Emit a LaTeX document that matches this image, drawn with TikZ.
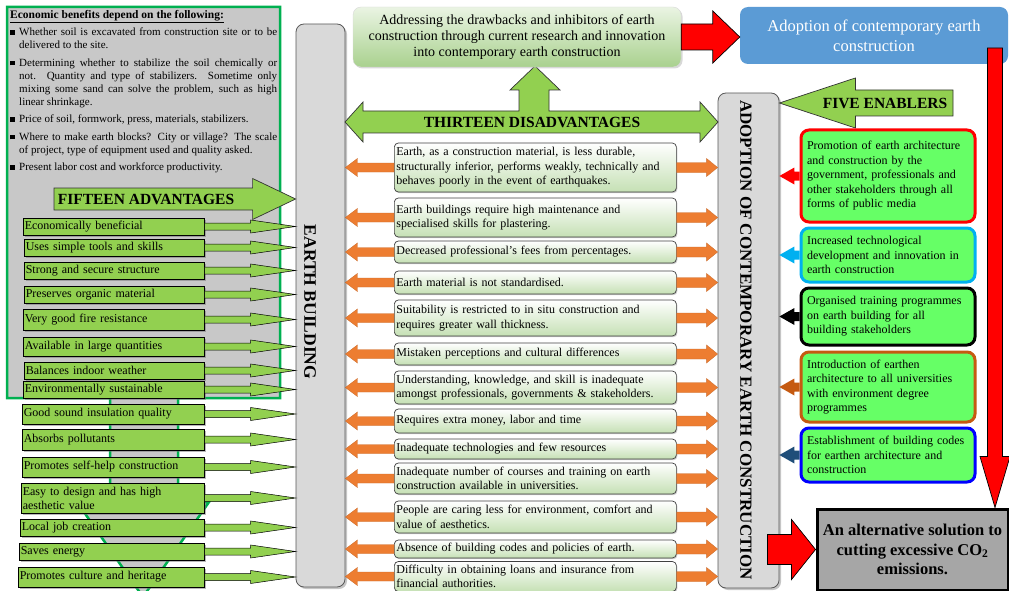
\documentclass[tikz,border=0pt]{standalone}
\usepackage{fontspec}
\setmainfont{Liberation Serif}
\usetikzlibrary{arrows.meta,calc,shadows,positioning}

\definecolor{advgreen}{HTML}{92D050}
\definecolor{boxgray}{HTML}{C8C8C8}
\definecolor{framegreen}{HTML}{00B050}
\definecolor{colgray}{HTML}{D9D9D9}
\definecolor{disorange}{HTML}{ED7D31}
\definecolor{dislight}{HTML}{C5E0B4}
\definecolor{topgreen}{HTML}{A9D18E}
\definecolor{toplight}{HTML}{EAF4E3}
\definecolor{adoptblue}{HTML}{5B9BD5}
\definecolor{enabgreen}{HTML}{66FF66}
\definecolor{skyblue}{HTML}{00B0F0}
\definecolor{rust}{HTML}{C55A11}
\definecolor{navy}{HTML}{1F4E79}
\definecolor{altgray}{HTML}{A6A6A6}

\newcommand\bul{\noindent\hangindent=9pt\hangafter=1\makebox[9pt][l]{\rule[1pt]{4.5pt}{4.5pt}}}

% block arrow: style, tail, tip, half shaft, head length, half head
\newcommand\blockarrow[6]{%
  \draw[#1] let \p1=#2, \p2=#3, \n1={veclen(\x2-\x1,\y2-\y1)},
      \n2={(\x2-\x1)/\n1}, \n3={(\y2-\y1)/\n1} in
    ({\x1-#4*(\n3)},{\y1+#4*(\n2)})
    -- ({\x2-#5*(\n2)-#4*(\n3)},{\y2-#5*(\n3)+#4*(\n2)})
    -- ({\x2-#5*(\n2)-#6*(\n3)},{\y2-#5*(\n3)+#6*(\n2)})
    -- (\p2)
    -- ({\x2-#5*(\n2)+#6*(\n3)},{\y2-#5*(\n3)-#6*(\n2)})
    -- ({\x2-#5*(\n2)+#4*(\n3)},{\y2-#5*(\n3)-#4*(\n2)})
    -- ({\x1+#4*(\n3)},{\y1-#4*(\n2)}) -- cycle;}

\tikzset{
  funnel/.style={draw=framegreen, fill=boxgray, line width=2.5pt},
  econtext/.style={anchor=north west, text width=267pt, inner sep=0pt, align=justify,
    font=\fontsize{11}{13}\selectfont},
  colbox/.style={draw=black!65, fill=colgray, rounded corners=8pt, line width=0.8pt,
    drop shadow={shadow xshift=2pt, shadow yshift=-2pt, fill=black!45}},
  coltext/.style={rotate=-90, inner sep=0pt},
  advbox/.style={draw=black, fill=advgreen, anchor=west, align=left, inner xsep=1.5pt, inner ysep=1pt,
    line width=0.6pt, font=\fontsize{12}{14}\selectfont,
    drop shadow={shadow xshift=1.5pt, shadow yshift=-1.5pt, fill=black!55}},
  advarrow/.style={draw=black, fill=advgreen, line width=0.5pt},
  bigarrow/.style={draw=black!80, fill=advgreen, line width=0.7pt},
  bigtext/.style={inner sep=1pt, font=\bfseries\fontsize{15.5}{18}\selectfont},
  disbox/.style={draw=black!75, rounded corners=4pt, top color=white, bottom color=dislight, anchor=west,
    minimum width=282pt, text width=278pt, inner xsep=2pt, inner ysep=1pt, align=left,
    line width=0.7pt, font=\fontsize{12}{14.5}\selectfont,
    drop shadow={shadow xshift=1pt, shadow yshift=-1.2pt, fill=black!40}},
  disarrow/.style={draw=disorange!85!black, line width=0.3pt, fill=disorange},
  topbox/.style={rounded corners=8pt, top color=toplight, bottom color=topgreen, draw=black!15,
    minimum width=328pt, minimum height=60pt, align=center, font=\fontsize{14}{16}\selectfont,
    drop shadow={shadow xshift=1.5pt, shadow yshift=-1.5pt, fill=black!30}},
  bluebox/.style={rounded corners=8pt, fill=adoptblue, text=white, minimum width=268pt,
    minimum height=57pt, align=center, font=\fontsize{16.5}{20}\selectfont},
  redarrow/.style={draw=black, fill=red, line width=0.7pt},
  enabbox/.style={fill=enabgreen, rounded corners=8pt, line width=3pt, text width=162pt, align=left,
    inner xsep=6pt, inner ysep=2pt, font=\fontsize{12}{14.5}\selectfont},
  enabarrow/.style={draw=none},
  altbox/.style={draw=black, fill=altgray, line width=3pt, minimum width=191pt, minimum height=81pt,
    align=center, font=\bfseries\fontsize{16.5}{19.5}\selectfont},
}

\begin{document}
\begin{tikzpicture}[x=1pt,y=-1pt]
\useasboundingbox (0,0) rectangle (1009,591);
\clip (0,0) rectangle (1009,591);

% economic benefits box and its down arrow
\draw[funnel] (7,7) -- (280,7) -- (280,398) -- (178,398) -- (178,502) -- (209,502) -- (143,597)
  -- (77,502) -- (110,502) -- (110,398) -- (7,398) -- cycle;
\node[econtext] (econ) at (10,10) {\setlength\parskip{4.5pt}\hyphenpenalty=10000 \tolerance=9999
  {\bfseries\fontsize{11.5}{13}\selectfont\underline{Economic benefits depend on the following:}}\par
  \bul Whether soil is excavated from construction site or to be\linebreak delivered to the site.\par
  \bul Determining whether to stabilize the soil chemically or\linebreak not. Quantity and type of stabilizers. Sometime only\linebreak mixing some sand can solve the problem, such as high\linebreak linear shrinkage.\par
  \bul Price of soil, formwork, press, materials, stabilizers.\par
  \bul Where to make earth blocks? City or village? The scale\linebreak of project, type of equipment used and quality asked.\par
  \bul Present labor cost and workforce productivity.};

% the two columns
\node[colbox, minimum width=49pt, minimum height=563pt] (eb) at (320.5,305.5) {};
\node[coltext, font=\bfseries\fontsize{17.5}{20}\selectfont] (ebtext) at (310,302) {EARTH BUILDING};
\node[colbox, minimum width=61pt, minimum height=495pt] (ac) at (748.5,340.5) {};
\node[coltext, font=\bfseries\fontsize{17}{20}\selectfont] (actext) at (746,340) {ADOPTION OF CONTEMPORARY EARTH CONSTRUCTION};

% fifteen advantages
\coordinate (ftail) at (54,199);
\blockarrow{bigarrow}{(ftail)}{(eb.west |- ftail)}{11}{43}{20.5}
\node[bigtext] (fifteen) at (146,199) {FIFTEEN ADVANTAGES};

\node[advbox, text width=178pt, minimum height=17pt] (a1) at (23,226.5) {Economically beneficial};
\node[advbox, text width=177pt, minimum height=17pt] (a2) at (24,247.5) {Uses simple tools and skills};
\node[advbox, text width=177pt, minimum height=17pt] (a3) at (24,270.5) {Strong and secure structure};
\node[advbox, text width=177pt, minimum height=17pt] (a4) at (24,294.5) {Preserves organic material};
\node[advbox, text width=178pt, minimum height=21pt] (a5) at (23,319.5) {Very good fire resistance};
\node[advbox, text width=178pt, minimum height=19pt] (a6) at (23,346.5) {Available in large quantities};
\node[advbox, text width=177pt, minimum height=17pt] (a7) at (24,370.5) {Balances indoor weather};
\node[advbox, text width=178pt, minimum height=17pt] (a8) at (23,389.5) {Environmentally sustainable};
\node[advbox, text width=179pt, minimum height=20pt] (a9) at (22,414) {Good sound insulation quality};
\node[advbox, text width=179pt, minimum height=21pt] (a10) at (22,439.5) {Absorbs pollutants};
\node[advbox, text width=179pt, minimum height=20pt] (a11) at (22,467) {Promotes self-help construction};
\node[advbox, text width=180pt, minimum height=30pt] (a12) at (21,498) {Easy to design and has high\\ aesthetic value};
\node[advbox, text width=181pt, minimum height=17pt] (a13) at (20,527.5) {Local job creation};
\node[advbox, text width=182pt, minimum height=17pt] (a14) at (19,551.5) {Saves energy};
\node[advbox, text width=183pt, minimum height=20pt] (a15) at (18,577) {Promotes culture and heritage};

\blockarrow{advarrow}{(a1.east)}{(eb.west |- a1.east)}{3.5}{45}{6.5}
\blockarrow{advarrow}{(a2.east)}{(eb.west |- a2.east)}{3.5}{45}{6.5}
\blockarrow{advarrow}{(a3.east)}{(eb.west |- a3.east)}{3.5}{45}{6.5}
\blockarrow{advarrow}{(a4.east)}{(eb.west |- a4.east)}{3.5}{45}{6.5}
\blockarrow{advarrow}{(a5.east)}{(eb.west |- a5.east)}{3.5}{45}{6.5}
\blockarrow{advarrow}{(a6.east)}{(eb.west |- a6.east)}{3.5}{45}{6.5}
\blockarrow{advarrow}{(a7.east)}{(eb.west |- a7.east)}{3.5}{45}{6.5}
\blockarrow{advarrow}{(a8.east)}{(eb.west |- a8.east)}{3.5}{45}{6.5}
\blockarrow{advarrow}{(a9.east)}{(eb.west |- a9.east)}{3.5}{45}{6.5}
\blockarrow{advarrow}{(a10.east)}{(eb.west |- a10.east)}{3.5}{45}{6.5}
\blockarrow{advarrow}{(a11.east)}{(eb.west |- a11.east)}{3.5}{45}{6.5}
\blockarrow{advarrow}{(a12.east)}{(eb.west |- a12.east)}{3.5}{45}{6.5}
\blockarrow{advarrow}{(a13.east)}{(eb.west |- a13.east)}{3.5}{45}{6.5}
\blockarrow{advarrow}{(a14.east)}{(eb.west |- a14.east)}{3.5}{45}{6.5}
\blockarrow{advarrow}{(a15.east)}{(eb.west |- a15.east)}{3.5}{45}{6.5}

% thirteen disadvantages, double arrow with the branch up
\draw[bigarrow] (345,122) -- (363,102) -- (363,111) -- (519,111) -- (519,90) -- (510,90) -- (535,66)
  -- (560,90) -- (549,90) -- (549,111) -- (700,111) -- (700,102) -- (718,122) -- (700,142)
  -- (700,133) -- (363,133) -- (363,142) -- cycle;
\node[bigtext] (thirteen) at (532,122) {THIRTEEN DISADVANTAGES};

\node[disbox, minimum height=49pt] (d1) at (394,167.5) {Earth, as a construction material, is less durable,\\ structurally inferior, performs weakly, technically and\\ behaves poorly in the event of earthquakes.};
\node[disbox, minimum height=39pt] (d2) at (394,217.5) {Earth buildings require high maintenance and\\ specialised skills for plastering.};
\node[disbox, minimum height=22pt] (d3) at (394,252) {Decreased professional's fees from percentages.};
\node[disbox, minimum height=23pt] (d4) at (394,282.5) {Earth material is not standardised.};
\node[disbox, minimum height=36pt] (d5) at (394,318) {Suitability is restricted to in situ construction and\\ requires greater wall thickness.};
\node[disbox, minimum height=22pt] (d6) at (394,354) {Mistaken perceptions and cultural differences};
\node[disbox, minimum height=33pt] (d7) at (394,387.5) {Understanding, knowledge, and skill is inadequate\\ amongst professionals, governments \& stakeholders.};
\node[disbox, minimum height=24pt] (d8) at (394,421) {Requires extra money, labor and time};
\node[disbox, minimum height=20pt] (d9) at (394,449) {Inadequate technologies and few resources};
\node[disbox, minimum height=31pt] (d10) at (394,478.5) {Inadequate number of courses and training on earth\\ construction available in universities.};
\node[disbox, minimum height=32pt] (d11) at (394,517) {People are caring less for environment, comfort and\\ value of aesthetics.};
\node[disbox, minimum height=18pt] (d12) at (394,549) {Absence of building codes and policies of earth.};
\node[disbox, minimum height=30pt] (d13) at (394,576.5) {Difficulty in obtaining loans and insurance from\\ financial authorities.};

\blockarrow{disarrow}{(d1.west)}{(eb.east |- d1.west)}{4.5}{12}{9}
\blockarrow{disarrow}{(d2.west)}{(eb.east |- d2.west)}{4.5}{12}{9}
\blockarrow{disarrow}{(d3.west)}{(eb.east |- d3.west)}{4.5}{12}{9}
\blockarrow{disarrow}{(d4.west)}{(eb.east |- d4.west)}{4.5}{12}{9}
\blockarrow{disarrow}{(d5.west)}{(eb.east |- d5.west)}{4.5}{12}{9}
\blockarrow{disarrow}{(d6.west)}{(eb.east |- d6.west)}{4.5}{12}{9}
\blockarrow{disarrow}{(d7.west)}{(eb.east |- d7.west)}{4.5}{12}{9}
\blockarrow{disarrow}{(d8.west)}{(eb.east |- d8.west)}{4.5}{12}{9}
\blockarrow{disarrow}{(d9.west)}{(eb.east |- d9.west)}{4.5}{12}{9}
\blockarrow{disarrow}{(d10.west)}{(eb.east |- d10.west)}{4.5}{12}{9}
\blockarrow{disarrow}{(d11.west)}{(eb.east |- d11.west)}{4.5}{12}{9}
\blockarrow{disarrow}{(d12.west)}{(eb.east |- d12.west)}{4.5}{12}{9}
\blockarrow{disarrow}{(d13.west)}{(eb.east |- d13.west)}{4.5}{12}{9}

\blockarrow{disarrow}{(d1.east)}{(ac.west |- d1.east)}{5}{11}{9}
\blockarrow{disarrow}{(d2.east)}{(ac.west |- d2.east)}{5}{11}{9}
\blockarrow{disarrow}{(d3.east)}{(ac.west |- d3.east)}{5}{11}{9}
\blockarrow{disarrow}{(d4.east)}{(ac.west |- d4.east)}{5}{11}{9}
\blockarrow{disarrow}{(d5.east)}{(ac.west |- d5.east)}{5}{11}{9}
\blockarrow{disarrow}{(d6.east)}{(ac.west |- d6.east)}{5}{11}{9}
\blockarrow{disarrow}{(d7.east)}{(ac.west |- d7.east)}{5}{11}{9}
\blockarrow{disarrow}{(d8.east)}{(ac.west |- d8.east)}{5}{11}{9}
\blockarrow{disarrow}{(d9.east)}{(ac.west |- d9.east)}{5}{11}{9}
\blockarrow{disarrow}{(d10.east)}{(ac.west |- d10.east)}{5}{11}{9}
\blockarrow{disarrow}{(d11.east)}{(ac.west |- d11.east)}{5}{11}{9}
\blockarrow{disarrow}{(d12.east)}{(ac.west |- d12.east)}{5}{11}{9}
\blockarrow{disarrow}{(d13.east)}{(ac.west |- d13.east)}{5}{11}{9}

% top row
\node[topbox] (topbox) at (517,37) {Addressing the drawbacks and inhibitors of earth\\ construction through current research and innovation\\ into contemporary earth construction};
\node[bluebox] (adopt) at (874,35.5) {Adoption of contemporary earth\\ construction};
\blockarrow{redarrow}{(topbox.east)}{(adopt.west |- topbox.east)}{13}{27}{26}

% five enablers
\coordinate (etail) at (953,103);
\blockarrow{bigarrow}{(etail)}{(ac.east |- etail)}{13}{76}{25}
\node[bigtext] (five) at (885,103) {FIVE ENABLERS};

\node[enabbox, draw=red, minimum height=92pt] (e1) at (888,176) {Promotion of earth architecture\\ and construction by the\\ government, professionals and\\ other stakeholders through all\\ forms of public media};
\node[enabbox, draw=skyblue, minimum height=54pt] (e2) at (888,255) {Increased technological\\ development and innovation in\\ earth construction};
\node[enabbox, draw=black, minimum height=57pt] (e3) at (888,316.5) {Organised training programmes\\ on earth building for all\\ building stakeholders};
\node[enabbox, draw=rust, minimum height=70pt] (e4) at (888,387) {Introduction of earthen\\ architecture to all universities\\ with environment degree\\ programmes};
\node[enabbox, draw=blue, minimum height=54pt] (e5) at (888,455) {Establishment of building codes\\ for earthen architecture and\\ construction};

\blockarrow{enabarrow, fill=red}{(e1.west)}{(ac.east |- e1.west)}{4.5}{15}{8.5}
\blockarrow{enabarrow, fill=skyblue}{(e2.west)}{(ac.east |- e2.west)}{4.5}{15}{8.5}
\blockarrow{enabarrow, fill=black}{(e3.west)}{(ac.east |- e3.west)}{4.5}{15}{8.5}
\blockarrow{enabarrow, fill=rust}{(e4.west)}{(ac.east |- e4.west)}{4.5}{15}{8.5}
\blockarrow{enabarrow, fill=navy}{(e5.west)}{(ac.east |- e5.west)}{4.5}{15}{8.5}

% outcome
\node[altbox] (alt) at (912.5,549.5) {An alternative solution to\\ cutting excessive CO\textsubscript{2}\\ emissions.};
\coordinate (rtop) at (995,48);
\blockarrow{redarrow}{(rtop)}{(rtop |- alt.north)}{7.5}{51}{15}
\blockarrow{redarrow}{($(ac.east |- alt.west)+(-12,0)$)}{(alt.west)}{15}{24}{30}
\end{tikzpicture}
\end{document}
